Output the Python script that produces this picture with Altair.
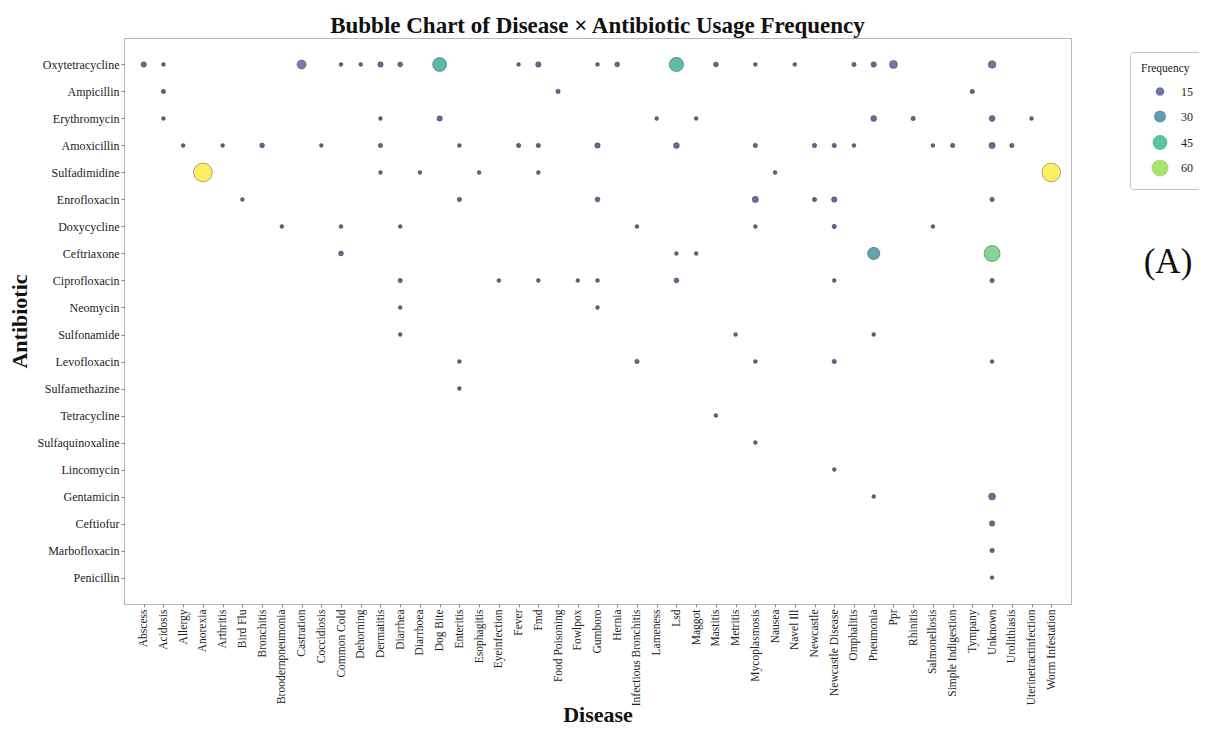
import altair as alt
import pandas as pd

FONT = "Liberation Serif"

diseases = [
    "Abscess", "Acidosis", "Allergy", "Anorexia", "Arthritis", "Bird Flu", "Bronchitis",
    "Broodernpneumonia", "Castration", "Coccidiosis", "Common Cold", "Dehorning", "Dermatitis",
    "Diarrhea", "Diarrhoea", "Dog Bite", "Enteritis", "Esophagitis", "Eyeinfection", "Fever",
    "Fmd", "Food Poisoning", "Fowlpox", "Gumboro", "Hernia", "Infectious Bronchitis", "Lameness",
    "Lsd", "Maggot", "Mastitis", "Metritis", "Mycoplasmosis", "Nausea", "Navel Ill", "Newcastle",
    "Newcastle Disease", "Omphalitis", "Pneumonia", "Ppr", "Rhinitis", "Salmonellosis",
    "Simple Indigestion", "Tympany", "Unknown", "Urolithiasis", "Uterinetractinfection",
    "Worm Infestation",
]

antibiotics = [
    "Oxytetracycline", "Ampicillin", "Erythromycin", "Amoxicillin", "Sulfadimidine",
    "Enrofloxacin", "Doxycycline", "Ceftriaxone", "Ciprofloxacin", "Neomycin", "Sulfonamide",
    "Levofloxacin", "Sulfamethazine", "Tetracycline", "Sulfaquinoxaline", "Lincomycin",
    "Gentamicin", "Ceftiofur", "Marbofloxacin", "Penicillin",
]

# frequency of each disease for every antibiotic
oxytetracycline = {"Abscess": 6, "Acidosis": 3, "Castration": 17, "Common Cold": 3, "Dehorning": 3,
                   "Dermatitis": 6, "Diarrhea": 5, "Dog Bite": 40, "Fever": 3, "Fmd": 6, "Gumboro": 3,
                   "Hernia": 5, "Lsd": 42, "Mastitis": 5, "Mycoplasmosis": 3, "Navel Ill": 3,
                   "Omphalitis": 4, "Pneumonia": 6, "Ppr": 13, "Unknown": 12}
ampicillin = {"Acidosis": 4, "Food Poisoning": 4, "Tympany": 4}
erythromycin = {"Acidosis": 3, "Dermatitis": 3, "Dog Bite": 6, "Lameness": 3, "Maggot": 3,
                "Pneumonia": 7, "Rhinitis": 4, "Unknown": 7, "Uterinetractinfection": 3}
amoxicillin = {"Allergy": 3, "Arthritis": 3, "Bronchitis": 5, "Coccidiosis": 3, "Dermatitis": 4,
               "Enteritis": 3, "Fever": 4, "Fmd": 4, "Gumboro": 6, "Lsd": 7, "Mycoplasmosis": 4,
               "Newcastle": 4, "Newcastle Disease": 4, "Omphalitis": 3, "Salmonellosis": 3,
               "Simple Indigestion": 4, "Unknown": 8, "Urolithiasis": 4}
sulfadimidine = {"Anorexia": 72, "Dermatitis": 3, "Diarrhoea": 3, "Esophagitis": 3, "Fmd": 3,
                 "Nausea": 3, "Worm Infestation": 72}
enrofloxacin = {"Bird Flu": 3, "Enteritis": 4, "Gumboro": 5, "Mycoplasmosis": 8, "Newcastle": 4,
                "Newcastle Disease": 6, "Unknown": 4}
doxycycline = {"Broodernpneumonia": 3, "Common Cold": 3, "Diarrhea": 3, "Infectious Bronchitis": 3,
               "Mycoplasmosis": 3, "Newcastle Disease": 4, "Salmonellosis": 3}
ceftriaxone = {"Common Cold": 5, "Lsd": 3, "Maggot": 3, "Pneumonia": 31, "Unknown": 53}
ciprofloxacin = {"Diarrhea": 4, "Eyeinfection": 3, "Fmd": 3, "Fowlpox": 3, "Gumboro": 3, "Lsd": 5,
                 "Newcastle Disease": 3, "Unknown": 4}
neomycin = {"Diarrhea": 3, "Gumboro": 3}
sulfonamide = {"Diarrhea": 3, "Metritis": 3, "Pneumonia": 3}
levofloxacin = {"Enteritis": 3, "Infectious Bronchitis": 4, "Mycoplasmosis": 3,
                "Newcastle Disease": 4, "Unknown": 3}
sulfamethazine = {"Enteritis": 3}
tetracycline = {"Mastitis": 3}
sulfaquinoxaline = {"Mycoplasmosis": 3}
lincomycin = {"Newcastle Disease": 3}
gentamicin = {"Pneumonia": 3, "Unknown": 10}
ceftiofur = {"Unknown": 6}
marbofloxacin = {"Unknown": 4}
penicillin = {"Unknown": 3}

usage_by_antibiotic = [oxytetracycline, ampicillin, erythromycin, amoxicillin, sulfadimidine,
                       enrofloxacin, doxycycline, ceftriaxone, ciprofloxacin, neomycin, sulfonamide,
                       levofloxacin, sulfamethazine, tetracycline, sulfaquinoxaline, lincomycin,
                       gentamicin, ceftiofur, marbofloxacin, penicillin]

legend_values = [15, 30, 45, 60]
panel_label = ["(A)"]

rows = []
for ab, usage in zip(antibiotics, usage_by_antibiotic):
    for dis, freq in usage.items():
        rows.append({"Disease": dis, "Antibiotic": ab, "Frequency": freq})
df = pd.DataFrame(rows)

fmax = int(df["Frequency"].max())
shared_domain = [0, fmax]
area_per_unit = 292 / 60.0

legend = alt.Legend(title="Frequency", type="symbol", values=legend_values)

bubbles = alt.Chart(df).mark_circle(
    opacity=1, fillOpacity=0.72, stroke="#222222", strokeWidth=0.7, strokeOpacity=0.55
).encode(
    x=alt.X("Disease:N", sort=diseases, scale=alt.Scale(type="point", padding=2.27),
            axis=alt.Axis(title="Disease", labelAngle=-90, labelFontSize=11.5, labelPadding=2,
                          titleY=100, titleBaseline="top")),
    y=alt.Y("Antibiotic:N", sort=antibiotics, scale=alt.Scale(type="point", padding=0.98),
            axis=alt.Axis(title="Antibiotic", labelFontSize=12, labelPadding=2,
                          titleX=-93, titleY=283)),
    color=alt.Color("Frequency:Q",
                    scale=alt.Scale(scheme="viridis", domain=shared_domain),
                    legend=legend),
    size=alt.Size("Frequency:Q",
                  scale=alt.Scale(type="linear", domain=shared_domain,
                                  range=[0, area_per_unit * fmax]),
                  legend=legend),
)

label = alt.Chart(pd.DataFrame({"label": panel_label})).mark_text(
    font=FONT, fontSize=35, align="center", baseline="middle", color="#111111"
).encode(text="label:N", x=alt.value(1044), y=alt.value(224))

chart = alt.layer(bubbles, label).properties(
    width=947,
    height=566,
    title=alt.Title("Bubble Chart of Disease × Antibiotic Usage Frequency", font=FONT,
                    fontSize=23, fontWeight="bold", anchor="middle", offset=0, color="#111111"),
    autosize=alt.AutoSizeParams(type="none"),
    padding={"left": 116, "top": 30, "right": 128, "bottom": 122},
).configure_view(
    stroke="#b5b5b5", strokeWidth=1
).configure_axis(
    grid=False, domain=False, ticks=True, tickSize=3, tickColor="#666666", tickWidth=0.8,
    labelFont=FONT, labelColor="#222222", titleFont=FONT, titleFontSize=22,
    titleFontWeight="bold", titleColor="#111111",
).configure_legend(
    orient="none", legendX=1006, legendY=14,
    titleFont=FONT, titleFontSize=11.5, titleFontWeight="normal", titleColor="#222222",
    labelFont=FONT, labelFontSize=12, labelColor="#222222",
    strokeColor="#c4c4c4", fillColor="white", padding=11, cornerRadius=3,
    gridAlign="all", rowPadding=4.5, symbolOffset=10, labelOffset=12, titlePadding=11,
    symbolOpacity=0.75, symbolStrokeColor="#333333", symbolStrokeWidth=0.6,
)

chart.save("out.html", embed_options={"renderer": "svg", "actions": False})
